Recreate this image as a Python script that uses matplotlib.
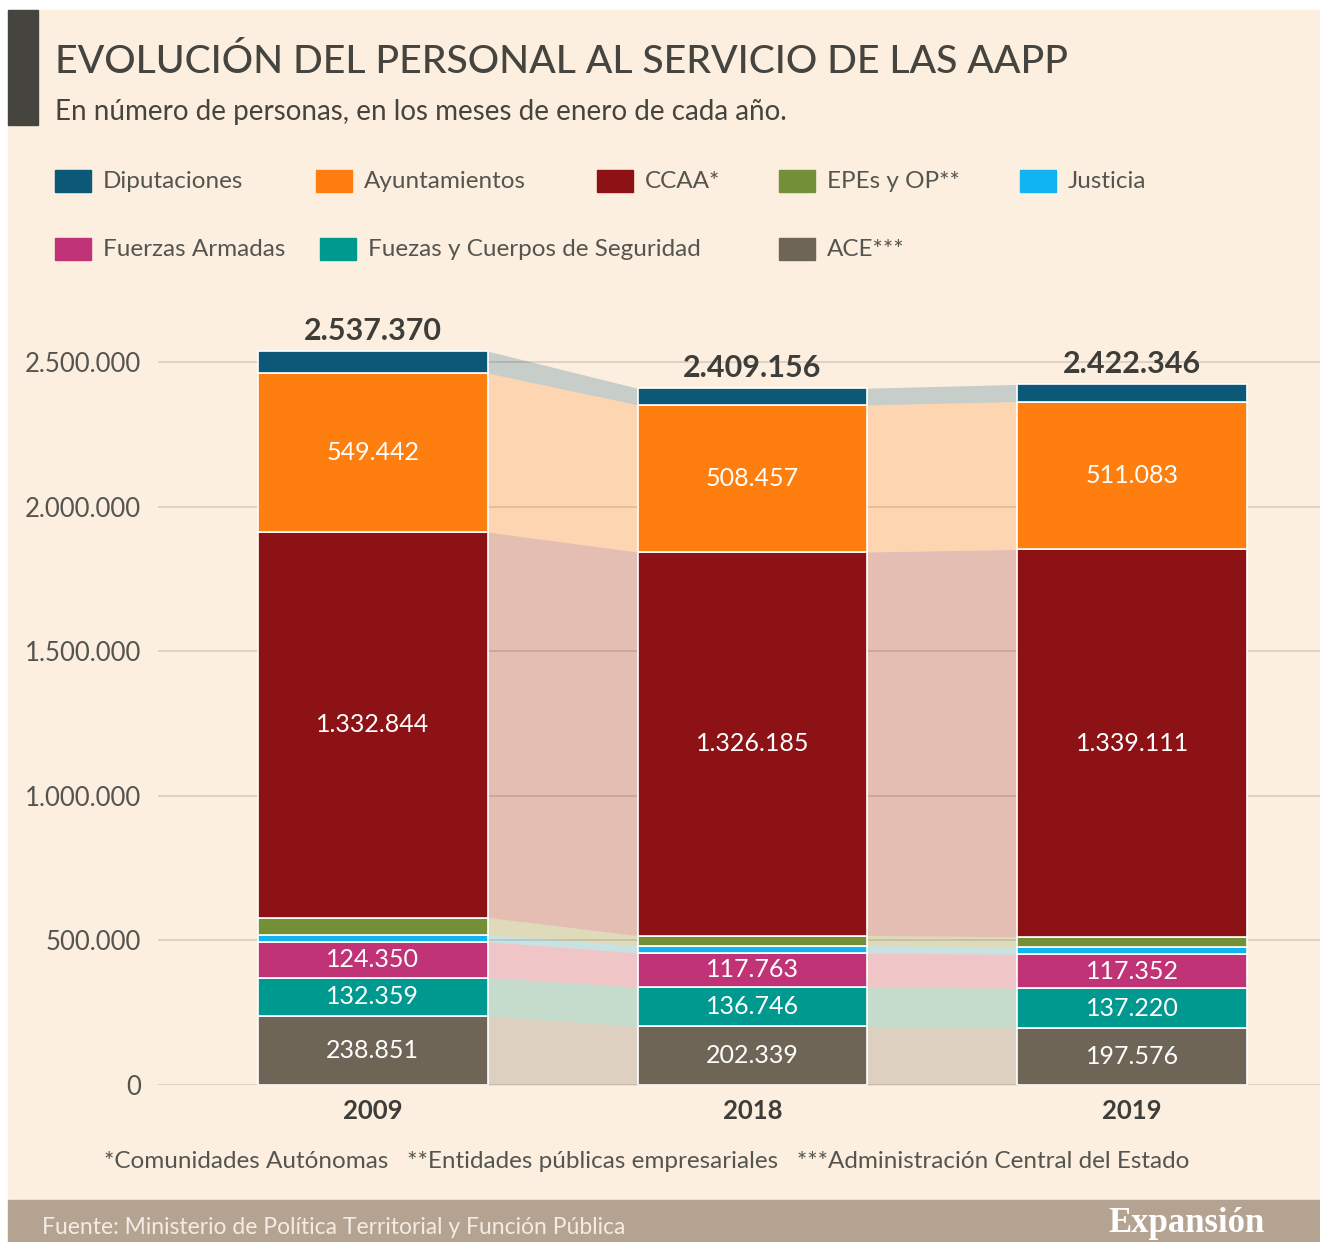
import matplotlib
matplotlib.use('Agg')
import matplotlib.pyplot as plt
from matplotlib.patches import Rectangle

# data (personas, enero de cada año)
years = ['2009', '2018', '2019']
ace = [238851, 202339, 197576]
fcs = [132359, 136746, 137220]
fas = [124350, 117763, 117352]
justicia = [23000, 25000, 25500]
epes = [60524, 35000, 35000]
ccaa = [1332844, 1326185, 1339111]
ayunt = [549442, 508457, 511083]
diput = [76000, 57666, 59504]
totals = [2537370, 2409156, 2422346]

yticks = [0, 500000, 1000000, 1500000, 2000000, 2500000]

# stacking order, bottom to top
series = [ace, fcs, fas, justicia, epes, ccaa, ayunt, diput]
colors = ['#6f6556', '#00998f', '#c03377', '#10b4f0', '#739039', '#8d1216', '#fe7f10', '#0b5877']
labelled = [True, True, True, False, False, True, True, False]

bg = '#fdefdf'
dark = '#45443f'
cond = ['Lato', 'DejaVu Sans']

def fmt(v):
    return f'{v:,}'.replace(',', '.')

fig = plt.figure(figsize=(13.2, 12.42), dpi=100)
fig.patch.set_facecolor('white')
# cream panel, footer and title bar
fig.patches.append(Rectangle((8/1320, 42/1242), 1 - 8/1320, 1 - 52/1242, transform=fig.transFigure, color=bg, zorder=-10))
fig.patches.append(Rectangle((8/1320, 0), 1 - 8/1320, 42/1242, transform=fig.transFigure, color='#b5a392', zorder=-10))
fig.patches.append(Rectangle((8/1320, 1 - 125/1242), 30/1320, 115/1242, transform=fig.transFigure, color=dark, zorder=-5))

fig.text(55/1320, 1 - 62/1242, 'EVOLUCIÓN DEL PERSONAL AL SERVICIO DE LAS AAPP', fontsize=28.2, color=dark,
         va='center', ha='left', family='Lato', fontweight='medium')
fig.text(55/1320, 1 - 112/1242, 'En número de personas, en los meses de enero de cada año.', fontsize=20, color=dark,
         va='center', ha='left', family='Lato')

# legend
leg = [('Diputaciones', 7, 55, 181), ('Ayuntamientos', 6, 316, 181), ('CCAA*', 5, 597, 181),
       ('EPEs y OP**', 4, 779, 181), ('Justicia', 3, 1020, 181),
       ('Fuerzas Armadas', 2, 55, 249), ('Fuezas y Cuerpos de Seguridad', 1, 320, 249), ('ACE***', 0, 779, 249)]
for name, idx, px, py in leg:
    fig.patches.append(Rectangle((px/1320, 1 - (py + 11)/1242), 36/1320, 22/1242, transform=fig.transFigure,
                                 color=colors[idx]))
    fig.text((px + 48)/1320, 1 - py/1242, name, fontsize=17.5, color='#555550', va='center', ha='left', family=cond)

ax = fig.add_axes([158/1320, 1 - 1085/1242, 1 - 158/1320, (1085 - 333)/1242])
ax.set_facecolor('none')
x = list(range(len(years)))
w = 0.605

bottom = [0, 0, 0]
bases = []
for s in series:
    bases.append(list(bottom))
    bottom = [b + v for b, v in zip(bottom, s)]

for s, c, base, lab in zip(series, colors, bases, labelled):
    ax.bar(x, s, width=w, bottom=base, color=c, edgecolor='white', linewidth=1.2, zorder=3)
    # connecting bands
    for i in range(len(x) - 1):
        xs = [x[i] + w/2, x[i + 1] - w/2]
        lo = [base[i], base[i + 1]]
        hi = [base[i] + s[i], base[i + 1] + s[i + 1]]
        ax.fill_between(xs, lo, hi, color=c, alpha=0.22, linewidth=0, zorder=2)
    if lab:
        for i in x:
            ax.text(x[i], base[i] + s[i]/2, fmt(s[i]), color='white', ha='center', va='center',
                    fontsize=18, family=cond, zorder=4)

for i in x:
    ax.text(x[i], totals[i] + 22000, fmt(totals[i]), ha='center', va='bottom', fontsize=22,
            fontweight='bold', color='#3d3d3a', family=cond, zorder=4)

ax.set_xlim(-0.566, 2.495)
ax.set_ylim(0, 2600000)
ax.set_yticks(yticks)
ax.set_yticklabels([fmt(v) for v in yticks], family=cond, fontsize=18.5, color='#555550')
ax.set_xticks(x)
ax.set_xticklabels(years, fontweight='bold', fontsize=18.5, color='#3d3d3a', family=cond)
ax.tick_params(axis='y', length=0, pad=12)
ax.tick_params(axis='x', length=0, pad=10)
ax.grid(axis='y', color='#d8cdbf', linewidth=1.2, zorder=0)
ax.set_axisbelow(True)
for sp in ax.spines.values():
    sp.set_visible(False)

fig.text(647/1320, 1 - 1161/1242, '*Comunidades Autónomas   **Entidades públicas empresariales   ***Administración Central del Estado',
         fontsize=17.5, color='#555550', ha='center', va='center', family=cond)
fig.text(42/1320, 1 - 1227/1242, 'Fuente: Ministerio de Política Territorial y Función Pública', fontsize=16.5,
         color='#f4ece2', ha='left', va='center', family=cond)
fig.text(1265/1320, 1 - 1224/1242, 'Expansión', fontsize=25, color='white', ha='right', va='center',
         family='Liberation Serif', fontweight='bold')

fig.savefig('out.png', dpi=100, facecolor=fig.get_facecolor())
